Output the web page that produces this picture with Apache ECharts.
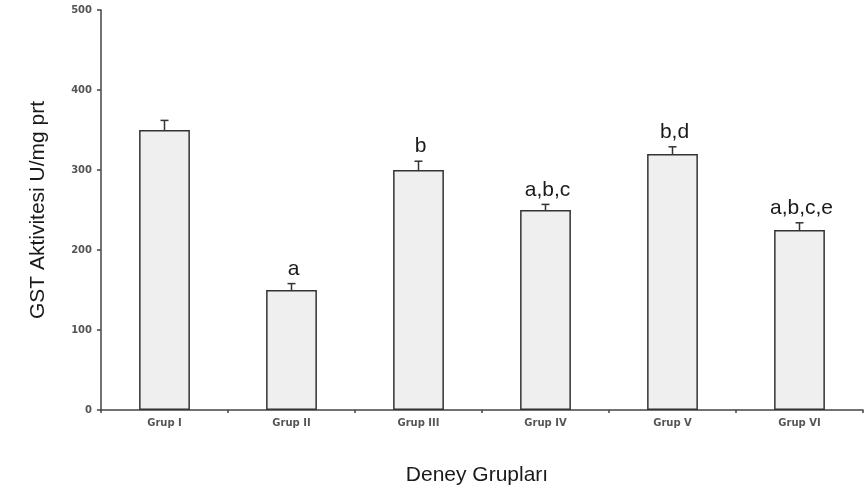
<!DOCTYPE html>
<html>
<head>
<meta charset="utf-8">
<script src="https://cdn.jsdelivr.net/npm/echarts@6/dist/echarts.min.js"></script>
<style>
html,body{margin:0;padding:0;background:#fff;}
#chart{width:866px;height:496px;}
</style>
</head>
<body>
<div id="chart"></div>
<script>
const categories = ['Grup I', 'Grup II', 'Grup III', 'Grup IV', 'Grup V', 'Grup VI'];
const means = [350, 150, 300, 250, 320, 225];
const errors = [12, 8, 11, 7, 9, 9];
const sigLabels = ['', 'a', 'b', 'a,b,c', 'b,d', 'a,b,c,e'];
const yTicks = [0, 100, 200, 300, 400, 500];

const chart = echarts.init(document.getElementById('chart'));
const axisColor = '#444';

chart.setOption({
  backgroundColor: '#ffffff',
  animation: false,
  grid: { left: 101, right: 3, top: 10, bottom: 86 },
  xAxis: {
    type: 'category',
    data: categories,
    boundaryGap: true,
    name: 'Deney Grupları',
    nameLocation: 'middle',
    nameGap: 55,
    nameTextStyle: { fontFamily: 'Liberation Sans', fontSize: 21, color: '#1a1a1a', padding: [0, 10, 0, 0] },
    axisLine: { show: true, lineStyle: { color: axisColor, width: 1.5 } },
    axisTick: { show: true, alignWithLabel: false, length: 3, lineStyle: { color: axisColor, width: 1.5 } },
    axisLabel: { fontFamily: 'DejaVu Sans', fontWeight: 'bold', fontSize: 10, color: '#555', margin: 8 },
    splitLine: { show: false }
  },
  yAxis: {
    type: 'value',
    min: yTicks[0],
    max: yTicks[yTicks.length - 1],
    interval: 100,
    name: 'GST Aktivitesi U/mg prt',
    nameLocation: 'middle',
    nameGap: 52,
    nameTextStyle: { fontFamily: 'Liberation Sans', fontSize: 21, color: '#1a1a1a' },
    axisLine: { show: true, lineStyle: { color: axisColor, width: 1.5 } },
    axisTick: { show: true, length: 4, lineStyle: { color: axisColor, width: 1.5 } },
    axisLabel: { fontFamily: 'DejaVu Sans', fontWeight: 'bold', fontSize: 10, color: '#555', margin: 9 },
    splitLine: { show: false }
  },
  series: [
    {
      type: 'bar',
      data: means,
      barWidth: '40%',
      itemStyle: { color: '#efefef', borderColor: '#333', borderWidth: 1.5 },
      z: 2
    },
    {
      type: 'custom',
      z: 3,
      data: categories.map((c, i) => [i, means[i], errors[i]]),
      renderItem: function (params, api) {
        const i = api.value(0);
        const m = api.value(1);
        const e = api.value(2);
        const base = api.coord([i, m]);
        const top = api.coord([i, m + e]);
        const cap = 4;
        const st = { stroke: '#333', lineWidth: 1.5 };
        return {
          type: 'group',
          children: [
            { type: 'line', shape: { x1: top[0], y1: base[1], x2: top[0], y2: top[1] }, style: st },
            { type: 'line', shape: { x1: top[0] - cap, y1: top[1], x2: top[0] + cap, y2: top[1] }, style: st },
            {
              type: 'text',
              style: {
                text: sigLabels[params.dataIndex],
                x: top[0] + 2,
                y: top[1] - 4,
                textAlign: 'center',
                textVerticalAlign: 'bottom',
                fontFamily: 'Liberation Sans',
                fontSize: 21,
                fill: '#1a1a1a'
              }
            }
          ]
        };
      }
    }
  ]
});
</script>
</body>
</html>
